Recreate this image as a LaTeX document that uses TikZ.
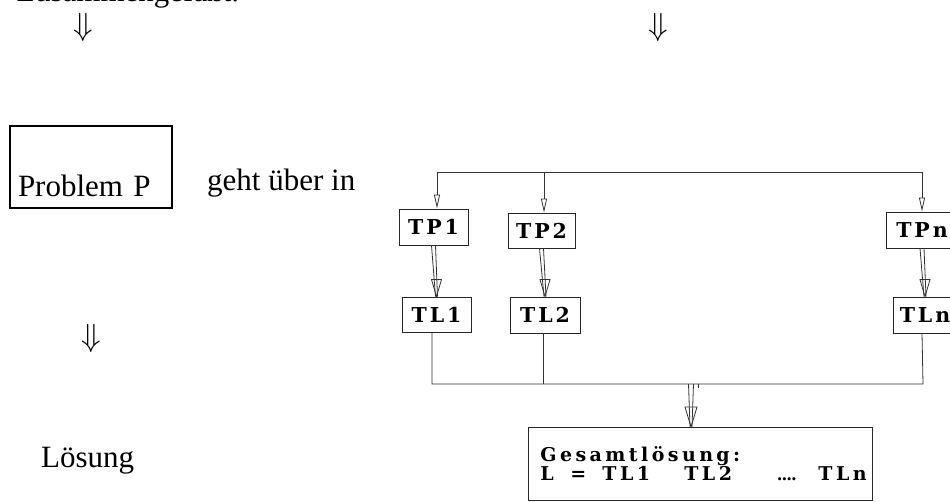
\documentclass[tikz,border=0pt]{standalone}
\usepackage{fontspec}
\setmainfont{Liberation Serif}
\newfontfamily\boxfont[LetterSpace=14]{DejaVu Serif}
\newfontfamily\gfont[LetterSpace=18]{DejaVu Serif}
\usetikzlibrary{arrows.meta,calc}
\tikzset{
  big/.style={font=\fontsize{31}{37}\selectfont, inner sep=0},
  darr/.style={inner sep=0, scale=3.2},
  tbox/.style={draw=black!85, line width=0.9, inner sep=0,
    font=\boxfont\bfseries\fontsize{20.5}{24}\selectfont},
  gbox/.style={draw=black!85, line width=0.9, inner xsep=12, inner ysep=0,
    align=left, font=\gfont\bfseries\fontsize{19}{18}\selectfont},
  conn/.style={draw=black!80, line width=0.8},
  sarr/.style={conn, -{Triangle[open,length=14pt,width=6pt]}},
  dhead/.style={draw=black!80, line width=0.8},
}
\begin{document}
\begin{tikzpicture}[x=1pt,y=-1pt]
\useasboundingbox (0,0) rectangle (950,502);
% left column
\node[big, anchor=base west] (zus) at (16,1.5) {Zusammengefaßt.};
\node[darr] (a1) at (83,28) {$\Downarrow$};
\node[darr] (a2) at (658,28) {$\Downarrow$};
\node[draw, line width=2, inner xsep=8, inner ysep=0, text width=146, text height=71, text depth=11,
      align=left, font=\fontsize{31}{37}\selectfont, anchor=north west] (P) at (9,125) {Problem P};
\node[big, anchor=base west] (geht) at (207,191) {geht über in};
\node[darr] (a3) at (91,339) {$\Downarrow$};
\node[big, anchor=base west] (loes) at (41,467) {Lösung};
% tree boxes
\node[tbox, minimum width=69, minimum height=36] (TP1) at (433.5,227) {TP1};
\node[tbox, minimum width=67, minimum height=35] (TP2) at (541.5,230.5) {TP2};
\node[tbox, minimum width=72, minimum height=36] (TPn) at (922,230) {TPn};
\node[tbox, minimum width=69, minimum height=35] (TL1) at (436.5,314.5) {TL1};
\node[tbox, minimum width=70, minimum height=36] (TL2) at (545,315) {TL2};
\node[tbox, minimum width=64, minimum height=36] (TLn) at (925,315) {TLn};
\node[gbox, minimum width=344, minimum height=73, text width=320, anchor=north west] (G) at (528,427)
  {Gesamtlösung:\\
   \makebox[30pt][l]{L}\makebox[32pt][l]{=}\makebox[82pt][l]{TL1}\makebox[93pt][l]{TL2}\makebox[41pt][l]{\rmfamily\bfseries ....}TLn};
% distribution line
\coordinate (t1) at (437,172);
\coordinate (t2) at (544,172);
\coordinate (tn) at (922,172);
\draw[conn] (t1) -- (tn);
\draw[sarr] (t1) -- (t1 |- TP1.north);
\draw[sarr] (t2) -- (t2 |- TP2.north);
\draw[sarr] (tn) -- (tn |- TPn.north);
% double arrows TP -> TL
\foreach \a/\b in {TP1/TL1, TP2/TL2, TPn/TLn}{
  \draw[conn] ([xshift=-2]\a.south) -- ([xshift=-1]\b.north);
  \draw[conn] ([xshift=2]\a.south) -- ([xshift=1]\b.north);
  \draw[dhead] (\b.north) -- +(-5,-17) -- +(5,-17) -- cycle;
}
% collecting line
\coordinate (b1) at (432,384);
\coordinate (b2) at (543,384);
\coordinate (bn) at (923,384);
\draw[conn] (b1 |- TL1.south) -- (b1) -- (bn) -- (TLn.south -| 922,0);
\draw[conn] (b2 |- TL2.south) -- (b2);
\coordinate (m) at (691,384);
\draw[conn] ([xshift=-2.5]m) -- ([xshift=-1]m |- G.north);
\draw[conn] ([xshift=2.5]m) -- ([xshift=1]m |- G.north);
\draw[dhead] (m |- G.north) -- +(-6,-20) -- +(6,-20) -- cycle;
\coordinate (tick) at (698,384);
\draw[conn, line width=0.6] (tick) -- +(0,4);
\end{tikzpicture}
\end{document}
